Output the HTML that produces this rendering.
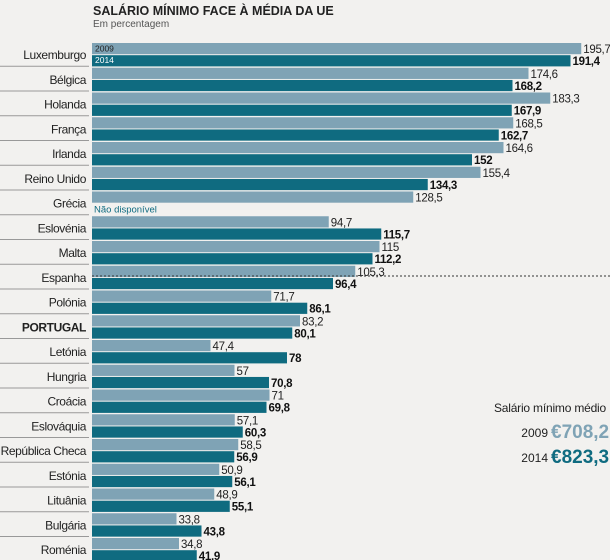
<!DOCTYPE html>
<html><head><meta charset="utf-8"><style>
body{margin:0;background:#f2f1ef;}
svg{display:block;font-family:"Liberation Sans",sans-serif;}
</style></head><body>
<svg id="c" width="610" height="560">
<rect width="610" height="560" fill="#f2f1ef"/>
<text x="93" y="15" font-size="12.5" font-weight="bold" fill="#222">SALÁRIO MÍNIMO FACE À MÉDIA DA  UE</text>
<text x="93" y="27" font-size="10" fill="#555">Em percentagem</text>
<g id="bars"></g>
<line x1="92" x2="610" y1="276" y2="276" stroke="#333" stroke-dasharray="2,2" stroke-width="1"/>
<text x="606" y="412" font-size="12" fill="#222" text-anchor="end" letter-spacing="-0.2">Salário mínimo médio</text>
<text x="548" y="437" font-size="12" fill="#222" text-anchor="end">2009</text>
<text x="551" y="438" font-size="19" font-weight="bold" fill="#7fa3b5">€708,2</text>
<text x="548" y="462" font-size="12" fill="#222" text-anchor="end">2014</text>
<text x="551" y="463" font-size="19" font-weight="bold" fill="#0f6b80">€823,3</text>
</svg>
<script>
const countries=["Luxemburgo","Bélgica","Holanda","França","Irlanda","Reino Unido","Grécia","Eslovénia","Malta","Espanha","Polónia","PORTUGAL","Letónia","Hungria","Croácia","Eslováquia","República Checa","Estónia","Lituânia","Bulgária","Roménia"];
const v2009=[195.7,174.6,183.3,168.5,164.6,155.4,128.5,94.7,115,105.3,71.7,83.2,47.4,57,71,57.1,58.5,50.9,48.9,33.8,34.8];
const v2014=[191.4,168.2,167.9,162.7,152,134.3,null,115.7,112.2,96.4,86.1,80.1,78,70.8,69.8,60.3,56.9,56.1,55.1,43.8,41.9];
const X0=92,K=2.5,TOP=43,PITCH=24.75,BH=11.2;
const x=v=>X0+v*K;
const g=document.getElementById('bars');
const NS="http://www.w3.org/2000/svg";
function mk(t,a,txt){const e=document.createElementNS(NS,t);for(const k in a)e.setAttribute(k,a[k]);if(txt!=null)e.textContent=txt;g.appendChild(e);return e;}
const fmt=v=>String(v).replace('.',',');
countries.forEach((c,i)=>{
  const y=TOP+i*PITCH;
  if(i>0){const s=mk('line',{x1:0,x2:89,y1:y-1.5,y2:y-1.5,stroke:'#999','stroke-width':1});
  
  }
  const l=mk('text',{x:86,y:y+16,'font-size':12,'letter-spacing':-0.4,'text-anchor':'end',fill:'#222','font-weight':c==='PORTUGAL'?'bold':'normal'},c);
  
  
  const b1=mk('rect',{x:X0,y:y,width:x(v2009[i])-X0,height:BH,fill:'#7fa3b5'});
  
  
  const t1=mk('text',{x:x(v2009[i])+2,y:y+10,'font-size':11.5,'letter-spacing':-0.3,fill:'#222'},fmt(v2009[i]));
  
  
  if(v2014[i]!=null){
    const b2=mk('rect',{x:X0,y:y+BH+1,width:x(v2014[i])-X0,height:BH,fill:'#0f6b80'});
    
    
    const t2=mk('text',{x:x(v2014[i])+2,y:y+BH+11,'font-size':11.5,'letter-spacing':-0.3,'font-weight':'bold',fill:'#111'},fmt(v2014[i]));
    
    
  } else {
    const n=mk('text',{x:X0+2,y:y+BH+10,'font-size':9.5,fill:'#0f6b80'},'Não disponível');
    
    
  }
  if(i===0){
    const a=mk('text',{x:X0+3,y:y+8.5,'font-size':8.5,fill:'#222'},'2009');
    
    
    const b=mk('text',{x:X0+3,y:y+BH+9,'font-size':8.5,fill:'#fff'},'2014');
    
    
  }
});
</script>
</body></html>
